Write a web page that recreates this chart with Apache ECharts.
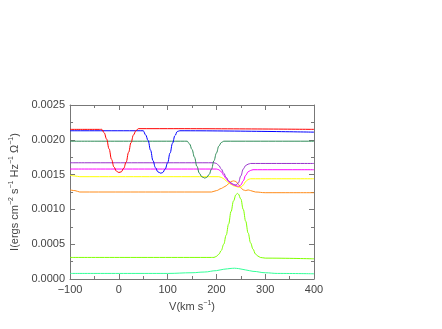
<!DOCTYPE html>
<html>
<head>
<meta charset="utf-8">
<script src="https://cdn.jsdelivr.net/npm/echarts@6/dist/echarts.min.js"></script>
<style>
  html, body { margin: 0; padding: 0; background: #fff; }
  #chart { width: 442px; height: 329px; }
</style>
</head>
<body>
<div id="chart"></div>
<script>
// line profiles, [V, I] pairs
var redLine = [[-100,0.00215],[-40,0.00215],[-35,0.00215],[-30,0.0021],[-25,0.00201],[-20,0.00187],[-15,0.00172],[-10,0.00161],[-5,0.00155],[0,0.00153],[5,0.00154],[10,0.00159],[15,0.00168],[20,0.00182],[25,0.00196],[30,0.00207],[35,0.00213],[40,0.00216],[100,0.00216],[400,0.00215]];
var blueLine = [[-100,0.00213],[45,0.00213],[50,0.00213],[55,0.00207],[60,0.00199],[65,0.00185],[70,0.0017],[75,0.0016],[80,0.00154],[86,0.00152],[90,0.00153],[95,0.00158],[100,0.00167],[105,0.00181],[110,0.00195],[115,0.00206],[120,0.00212],[125,0.00213],[400,0.00211]];
var greenLine = [[-100,0.00198],[135,0.00198],[140,0.00198],[145,0.00194],[150,0.00186],[155,0.00175],[160,0.00162],[165,0.00152],[170,0.00147],[176,0.00145],[180,0.00146],[185,0.0015],[190,0.00158],[195,0.0017],[200,0.00181],[205,0.00191],[210,0.00196],[215,0.00198],[400,0.00198]];
var purpleLine = [[-100,0.00167],[195,0.00167],[200,0.00166],[205,0.00163],[210,0.00158],[215,0.00152],[220,0.00146],[225,0.00141],[230,0.00138],[235,0.00136],[240,0.00135],[245,0.00138],[250,0.00148],[255,0.00158],[260,0.00163],[265,0.00165],[270,0.00166],[400,0.00166]];
var magentaLine = [[-100,0.00158],[200,0.00158],[205,0.00157],[210,0.00154],[215,0.00149],[220,0.00144],[225,0.0014],[230,0.00137],[235,0.00135],[240,0.00134],[245,0.00133],[250,0.00135],[255,0.00141],[260,0.00149],[265,0.00154],[270,0.00156],[275,0.00157],[400,0.00157]];
var yellowLine = [[-100,0.00149],[-90,0.00148],[-80,0.00147],[205,0.00147],[210,0.00146],[215,0.00144],[220,0.00141],[225,0.00138],[230,0.00136],[235,0.00134],[240,0.00133],[245,0.00132],[250,0.00132],[255,0.00135],[260,0.0014],[265,0.00143],[270,0.00144],[400,0.00144]];
var orangeLine = [[-100,0.00128],[-90,0.00127],[-80,0.00125],[190,0.00125],[200,0.00127],[210,0.0013],[215,0.00132],[220,0.00134],[225,0.00137],[230,0.0014],[235,0.00141],[240,0.0014],[245,0.00136],[250,0.00131],[255,0.00128],[260,0.00127],[265,0.00128],[270,0.00127],[280,0.00125],[300,0.00124],[400,0.00124]];
var limeLine = [[-100,0.00031],[190,0.00031],[195,0.00031],[200,0.000325],[205,0.000356],[210,0.00041],[215,0.0005],[220,0.00063],[225,0.00079],[230,0.00097],[235,0.00112],[240,0.00121],[243,0.00123],[245,0.00122],[250,0.00115],[255,0.001],[260,0.00083],[265,0.00066],[270,0.00052],[275,0.00043],[280,0.00036],[285,0.00033],[290,0.00031],[300,0.0003],[400,0.00029]];
var aquaLine = [[-100,0.00008],[100,0.00008],[150,0.00009],[175,0.0001],[200,0.00012],[215,0.00014],[230,0.000152],[237,0.000155],[245,0.00015],[260,0.00013],[275,0.00011],[300,0.00009],[325,0.00008],[400,0.000075]];

var profiles = [redLine, blueLine, greenLine, purpleLine, magentaLine, yellowLine, orangeLine, limeLine, aquaLine];
var colors = ['#ff0000', '#0000ff', '#2e8b57', '#9933cc', '#ff00ff', '#ffff00', '#ff8c1a', '#80ff00', '#33ff99'];

var font = 'Liberation Sans, Arial, sans-serif';
var axisGray = '#777';
var textGray = '#444';

var myChart = echarts.init(document.getElementById('chart'));

function frameAxis(pos, isX) {
  var ax = {
    type: 'value',
    position: pos,
    min: isX ? -100 : 0,
    max: isX ? 400 : 0.0025,
    interval: isX ? 100 : 0.0005,
    axisLine: { show: true, onZero: false, lineStyle: { color: axisGray, width: 1 } },
    axisTick: { show: true, inside: true, length: 5, lineStyle: { color: axisGray } },
    minorTick: { show: true, splitNumber: 2, length: 3, lineStyle: { color: axisGray } },
    splitLine: { show: false },
    axisLabel: { show: false }
  };
  return ax;
}

var xMain = frameAxis('bottom', true);
xMain.axisLabel = {
  show: true, color: textGray, fontSize: 11, fontFamily: font, margin: 5,
  formatter: function (v) { return v < 0 ? '\u2212' + Math.abs(v) : String(v); }
};
xMain.name = 'V(km s{sup|\u22121})';
xMain.nameLocation = 'middle';
xMain.nameGap = 19;
xMain.nameTextStyle = {
  color: textGray, fontSize: 11, fontFamily: font,
  rich: { sup: { fontSize: 7, fontFamily: font, color: textGray, padding: [0, 0, 7, 0] } }
};

var yMain = frameAxis('left', false);
yMain.axisLabel = {
  show: true, color: textGray, fontSize: 11, fontFamily: font, margin: 5,
  formatter: function (v) { return v.toFixed(4); }
};
yMain.name = 'I(ergs cm{sup|\u22122} s{sup|\u22121} Hz{sup|\u22121} \u03a9{sup|\u22121})';
yMain.nameLocation = 'middle';
yMain.nameGap = 46;
yMain.nameTextStyle = {
  color: textGray, fontSize: 11, fontFamily: font,
  rich: { sup: { fontSize: 7, fontFamily: font, color: textGray, padding: [0, 0, 7, 0] } }
};

var series = [];
for (var i = 0; i < profiles.length; i++) {
  series.push({
    type: 'line',
    data: profiles[i],
    showSymbol: false,
    smooth: 0.4,
    smoothMonotone: 'x',
    lineStyle: { color: colors[i], width: 1 },
    z: 10 - i
  });
}

var option = {
  animation: false,
  backgroundColor: '#fff',
  grid: { left: 66, right: 128, top: 105, bottom: 50 },
  xAxis: [xMain, frameAxis('top', true)],
  yAxis: [yMain, frameAxis('right', false)],
  series: series
};
myChart.setOption(option);
</script>
</body>
</html>
